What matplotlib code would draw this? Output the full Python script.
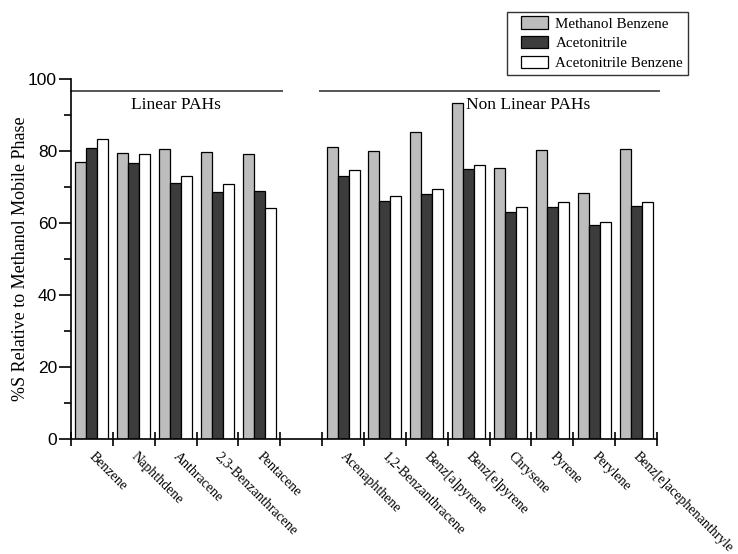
import numpy as np
import matplotlib
matplotlib.use('Agg')
import matplotlib.pyplot as plt
import matplotlib.transforms as mtransforms
from matplotlib.patches import Rectangle
from matplotlib.legend_handler import HandlerPatch
from matplotlib.ticker import MultipleLocator

plt.rcParams['font.family'] = 'Liberation Serif'

linear = ['Benzene', 'Naphthdene', 'Anthracene', '2,3-Benzanthracene', 'Pentacene']
non_linear = ['Acenaphthene', '1,2-Benzanthracene', 'Benz[a]pyrene', 'Benz[e]pyrene',
              'Chrysene', 'Pyrene', 'Perylene', 'Benz[e]acephenanthryle']

# linear PAHs
methanol_benzene_lin = [77.0, 79.4, 80.5, 79.6, 79.1]
acetonitrile_lin = [80.7, 76.8, 71.0, 68.6, 69.0]
acetonitrile_benzene_lin = [83.3, 79.1, 73.0, 70.7, 64.1]

# non linear PAHs
methanol_benzene_nl = [81.0, 80.0, 85.2, 93.4, 75.3, 80.2, 68.2, 80.6]
acetonitrile_nl = [73.1, 66.2, 68.1, 75.1, 63.1, 64.4, 59.4, 64.8]
acetonitrile_benzene_nl = [74.6, 67.5, 69.4, 76.2, 64.4, 65.7, 60.4, 65.7]

series = ['Methanol Benzene', 'Acetonitrile', 'Acetonitrile Benzene']
colors = ['#bdbdbd', '#3c3c3c', '#ffffff']

# one empty slot between the two groups
pos = np.concatenate([np.arange(len(linear)), np.arange(len(non_linear)) + len(linear) + 1]) + 0.5
data = [methanol_benzene_lin + methanol_benzene_nl,
        acetonitrile_lin + acetonitrile_nl,
        acetonitrile_benzene_lin + acetonitrile_benzene_nl]
n_slots = len(linear) + len(non_linear) + 1

fig = plt.figure(figsize=(7.38, 5.54), dpi=100)
ax = fig.add_axes([0.0962, 0.2076, 0.794, 0.6498])

w = 0.263
handles = []
for i, vals in enumerate(data):
    b = ax.bar(pos + (i - 1) * w, vals, w, color=colors[i], edgecolor='black',
               linewidth=0.9, label=series[i])
    handles.append(b.patches[0])

ax.set_xlim(0, n_slots)
ax.set_ylim(0, 100)

ax.spines['top'].set_visible(False)
ax.spines['right'].set_visible(False)
ax.spines['left'].set_linewidth(1.2)
ax.spines['bottom'].set_linewidth(1.2)

# boundaries get tick marks, centres carry the names
ax.set_xticks(np.arange(n_slots + 1))
ax.set_xticklabels([])
ax.tick_params(axis='x', which='major', direction='inout', length=10, width=1.2)
ax.set_xticks(pos, minor=True)
ax.set_xticklabels(linear + non_linear, minor=True, rotation=-45, ha='left', va='top',
                   rotation_mode='anchor', fontsize=10)
ax.tick_params(axis='x', which='minor', length=0, pad=8)
shift = mtransforms.ScaledTranslation(3 / 72, 0, fig.dpi_scale_trans)
for t in ax.get_xticklabels(minor=True):
    t.set_transform(t.get_transform() + shift)

ax.yaxis.set_major_locator(MultipleLocator(20))
ax.yaxis.set_minor_locator(MultipleLocator(10))
ax.tick_params(axis='y', which='major', direction='out', length=9, width=1.2,
               labelsize=12.5, pad=1)
ax.tick_params(axis='y', which='minor', direction='out', length=5, width=1.2)
for t in ax.get_yticklabels():
    t.set_family('Liberation Sans')

ax.set_ylabel('%S Relative to Methanol Mobile Phase', fontsize=13)
ax.yaxis.set_label_coords(-0.072, 0.5)

# group brackets
ax.plot([0, len(linear) + 0.05], [96.7, 96.7], color='#555555', lw=1.4, clip_on=False)
ax.plot([len(linear) + 0.95, n_slots + 0.05], [96.7, 96.7], color='#555555', lw=1.4, clip_on=False)
ax.text(len(linear) / 2, 92.8, 'Linear PAHs', ha='center', va='center', fontsize=12.5)
ax.text(9.44, 92.8, 'Non Linear PAHs', ha='left', va='center', fontsize=12.5)


def inset_patch(legend, orig_handle, xdescent, ydescent, width, height, fontsize):
    off = 7
    return Rectangle((-xdescent + off, -ydescent), width - off, height)


leg = fig.legend(handles=handles, labels=series, loc='upper left',
                 bbox_to_anchor=(0.687, 0.979), fontsize=10.8, frameon=True,
                 fancybox=False, edgecolor='black', handlelength=2.4, handleheight=0.9,
                 labelspacing=0.36, borderpad=0.3, handletextpad=0.53, borderaxespad=0,
                 handler_map={h: HandlerPatch(patch_func=inset_patch) for h in handles})
leg.get_frame().set_linewidth(1.0)

fig.savefig('out.png', dpi=100)
